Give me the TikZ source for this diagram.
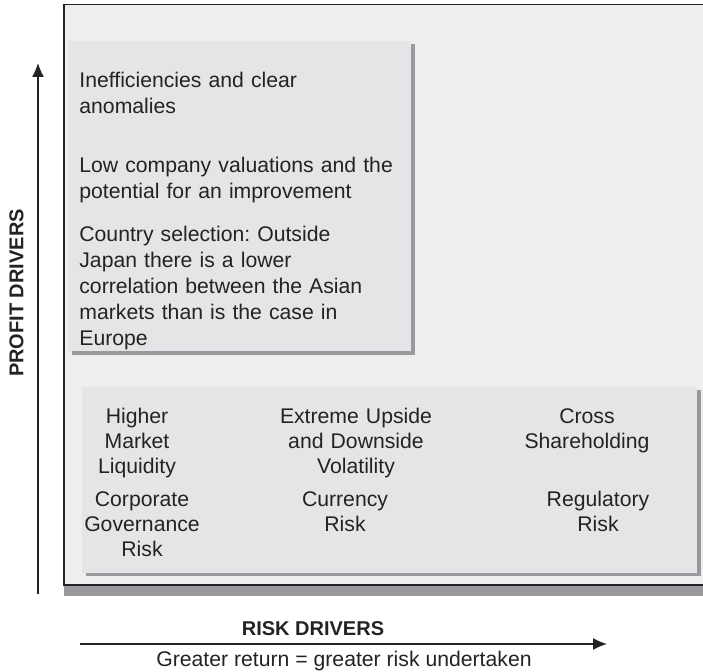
\documentclass[tikz,border=0pt]{standalone}
\usepackage{fontspec}
\setmainfont{Liberation Sans}
\usetikzlibrary{arrows.meta}
\frenchspacing

\definecolor{framefill}{RGB}{238,238,238}
\definecolor{boxfill}{RGB}{228,229,231}
\definecolor{boxshadow}{RGB}{154,154,158}
\definecolor{inkgray}{RGB}{35,35,35}

\begin{document}
\begin{tikzpicture}[x=0.5pt,y=-0.5pt,
    note/.style={anchor=base west, text width=172pt, align=left,
      font=\fontsize{10.6}{12.9}\selectfont},
    riskitem/.style={anchor=base, text width=110pt, align=center,
      font=\fontsize{10.6}{12.5}\selectfont},
    axislabel/.style={font=\fontsize{10}{12}\selectfont\bfseries},
    axisarrow/.style={draw=inkgray, line width=0.65pt,
      -{Latex[length=7pt,width=6pt]}}]

  \useasboundingbox (0,0) rectangle (703,672);

  % frame, with the grey bar under it
  \fill[boxshadow] (64,585) rectangle (712,596);
  \draw[fill=framefill, draw=inkgray, line width=0.8pt] (64,4.5) rectangle (712,585);

  % the two panels and their shadows
  \fill[boxshadow] (71.5,44.5) rectangle (414.5,355);
  \fill[boxfill]   (68,41)     rectangle (411,351.5);
  \fill[boxshadow] (85.5,390.5) rectangle (700.5,576.5);
  \fill[boxfill]   (82,387)     rectangle (697,573);

  \begin{scope}[every node/.style={inner sep=0pt, text=inkgray}]
    % profit drivers
    \node[note] (ineff)     at (79,88)  {Inefficiencies and clear\\anomalies};
    \node[note] (valuation) at (79,173) {Low company valuations and the\\potential for an improvement};
    \node[note] (country)   at (79,242) {Country selection: Outside\\Japan there is a lower\\correlation between the Asian\\markets than is the case in\\Europe};

    % risk drivers
    \node[riskitem] (liquidity)  at (137,424) {Higher\\Market\\Liquidity};
    \node[riskitem] (volatility) at (356,424) {Extreme Upside\\and Downside\\Volatility};
    \node[riskitem] (crossshare) at (587,424) {Cross\\Shareholding};
    \node[riskitem] (governance) at (142,507) {Corporate\\Governance\\Risk};
    \node[riskitem] (currency)   at (345,507) {Currency\\Risk};
    \node[riskitem] (regulatory) at (598,507) {Regulatory\\Risk};

    % axes
    \node[axislabel, rotate=90] (profitlabel) at (16.5,293) {PROFIT DRIVERS};
    \node[axislabel] (risklabel) at (313,629) {RISK DRIVERS};
    \node[anchor=base, font=\fontsize{10.6}{12.9}\selectfont] (returnnote) at (344,667)
      {Greater return = greater risk undertaken};
  \end{scope}

  \coordinate (profitfoot) at (38,594);
  \coordinate (profittip)  at (38,63);
  \coordinate (riskfoot)   at (80,644);
  \coordinate (risktip)    at (607,644);

  \draw[axisarrow] (profitfoot) -- (profittip);
  \draw[axisarrow] (riskfoot) -- (risktip);

\end{tikzpicture}
\end{document}
